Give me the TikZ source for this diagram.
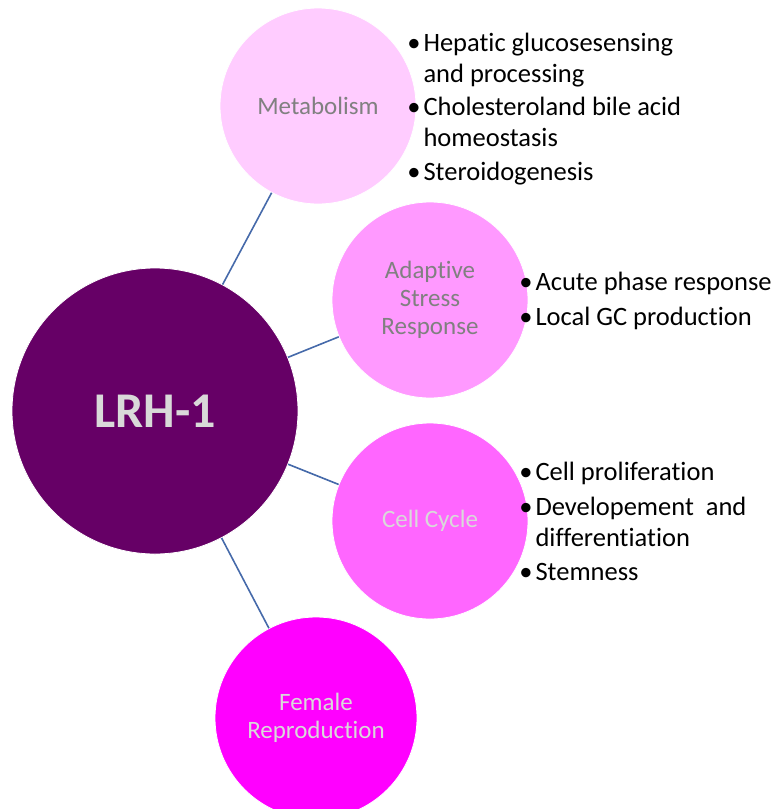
\documentclass[tikz,border=0pt]{standalone}
\usepackage{fontspec}
\setmainfont{Carlito}[Ligatures={NoCommon,NoContextual,NoRare},RawFeature={-calt}]
\definecolor{lrhpurple}{RGB}{102,0,102}
\definecolor{metpink}{RGB}{255,204,255}
\definecolor{stresspink}{RGB}{255,153,255}
\definecolor{cyclepink}{RGB}{255,102,255}
\definecolor{repropink}{RGB}{255,0,255}
\definecolor{linkblue}{RGB}{70,106,170}
\definecolor{darklabel}{RGB}{128,128,128}
\definecolor{lightlabel}{RGB}{217,217,217}

\begin{document}
\begin{tikzpicture}[x=1pt,y=-1pt,
    blob/.style={circle, fill=#1, draw=white, line width=0.8pt, inner sep=0pt, minimum size=196pt,
        align=center, font=\fontsize{25}{28}\selectfont},
    link/.style={draw=linkblue, line width=1.6pt},
    point/.style={anchor=base west, align=left, font=\fontsize{26.5}{31}\selectfont}]
\useasboundingbox (0,0) rectangle (777,809);
\def\dot{\llap{\textbullet\hspace{3pt}}}
\node [blob=lrhpurple, minimum size=286pt, text=lightlabel, font=\fontsize{50}{60}\selectfont\bfseries] (lrh) at (155,411) {LRH-1};
\node [blob=metpink, text=darklabel] (met) at (318,106) {Metabolism};
\node [blob=stresspink, text=darklabel] (stress) at (430,300) {Adaptive\\Stress\\Response};
\node [blob=cyclepink, text=lightlabel] (cycle) at (430,521) {Cell Cycle};
\node [blob=repropink, minimum size=202pt, text=lightlabel] (repro) at (316,718) {Female\\Reproduction};
\draw[link] (lrh) -- (met);
\draw[link] (lrh) -- (stress);
\draw[link] (lrh) -- (cycle);
\draw[link] (lrh) -- (repro);
% metabolism (two-line items sit on their last baseline)
\node [point] (met1) at (420,82) {\dot Hepatic glucosesensing\\and processing};
\node [point] (met2) at (420,146) {\dot Cholesteroland bile acid\\homeostasis};
\node [point] (met3) at (420,180) {\dot Steroidogenesis};
% stress
\node [point] (stress1) at (532,290) {\dot Acute phase response};
\node [point] (stress2) at (532,325) {\dot Local GC production};
% cell cycle
\node [point] (cycle1) at (532,480) {\dot Cell proliferation};
\node [point] (cycle2) at (532,546) {\dot Developement \ and\\differentiation};
\node [point] (cycle3) at (532,580) {\dot Stemness};
\end{tikzpicture}
\end{document}
